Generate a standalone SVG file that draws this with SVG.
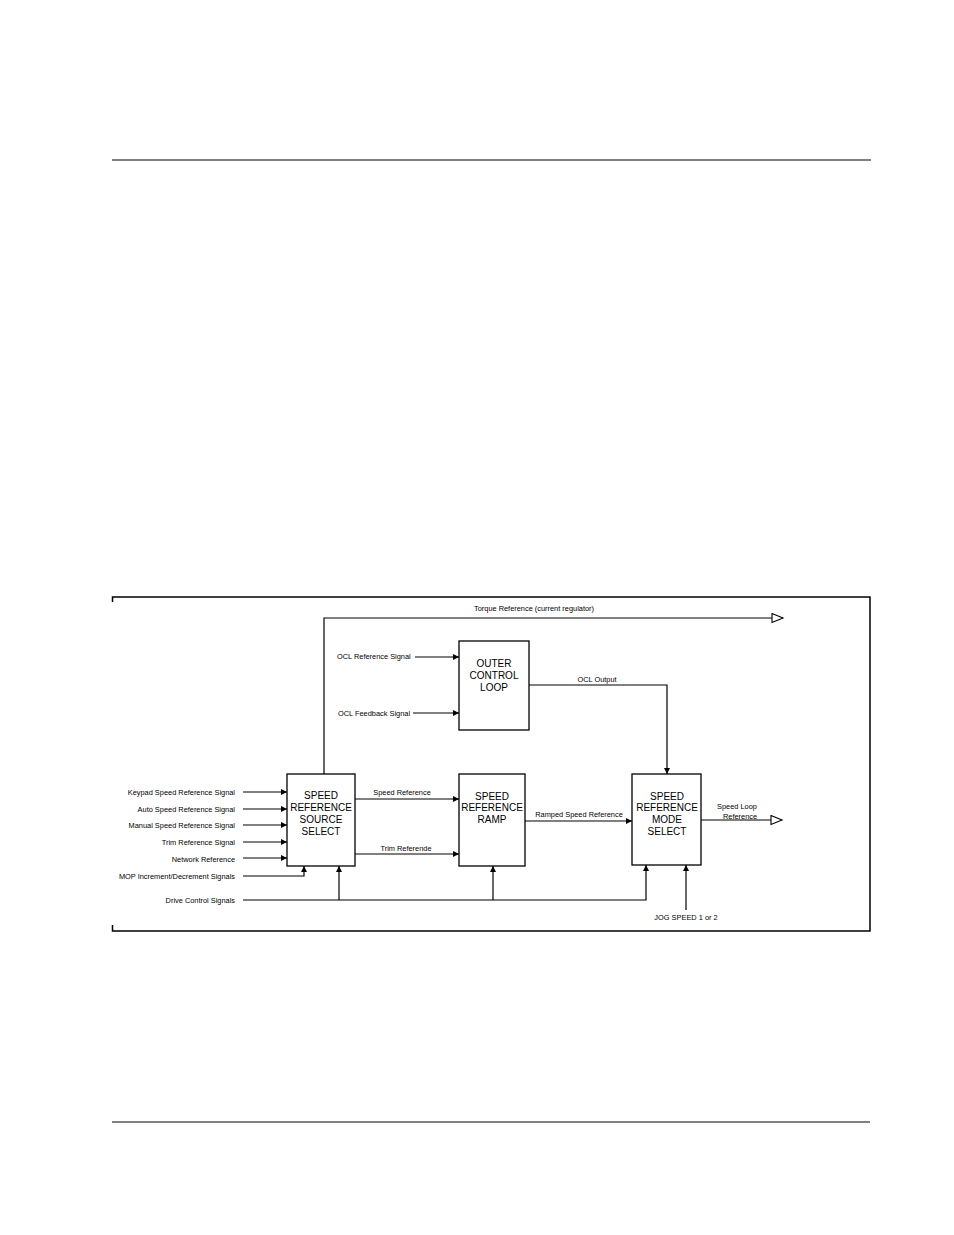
<svg xmlns="http://www.w3.org/2000/svg" width="954" height="1235" viewBox="0 0 954 1235">
<defs>
<style>
.ln{stroke:#000;stroke-width:1.2;fill:none}
.box{stroke:#000;stroke-width:1.3;fill:#fff}
.bt{font-family:"Liberation Sans",Arial,sans-serif;font-size:10px;text-anchor:middle;fill:#000}
.lb{font-family:"Liberation Sans",Arial,sans-serif;font-size:7.4px;fill:#000}
.r{text-anchor:end}
.m{text-anchor:middle}
</style>
<marker id="a" markerWidth="7" markerHeight="6" refX="6" refY="3" orient="auto" markerUnits="userSpaceOnUse">
<path d="M0,0 L6,3 L0,6 z" fill="#000"/>
</marker>
<marker id="o" markerWidth="14" markerHeight="12" refX="12" refY="5.5" orient="auto" markerUnits="userSpaceOnUse">
<path d="M1,1 L12,5.5 L1,10 z" fill="#fff" stroke="#000" stroke-width="1.1"/>
</marker>
</defs>
<rect width="954" height="1235" fill="#fff"/>
<line x1="112" y1="160" x2="871" y2="160" stroke="#000" stroke-width="1.2"/>
<line x1="112" y1="1122" x2="870" y2="1122" stroke="#000" stroke-width="1.2"/>
<g id="frame" fill="none" stroke="#000">
<polyline points="112.5,602 112.5,597 870,597 870,931 112.5,931 112.5,925" stroke-width="1.5"/>
</g>
<g id="connectors">
<polyline class="ln" points="324,774 324,618 783,618" marker-end="url(#o)"/>
<line class="ln" x1="415" y1="657" x2="459" y2="657" marker-end="url(#a)"/>
<line class="ln" x1="413" y1="713" x2="459" y2="713" marker-end="url(#a)"/>
<polyline class="ln" points="529,685 667,685 667,774" marker-end="url(#a)"/>
<line class="ln" x1="243" y1="792" x2="287" y2="792" marker-end="url(#a)"/>
<line class="ln" x1="243" y1="809" x2="287" y2="809" marker-end="url(#a)"/>
<line class="ln" x1="243" y1="825" x2="287" y2="825" marker-end="url(#a)"/>
<line class="ln" x1="243" y1="842" x2="287" y2="842" marker-end="url(#a)"/>
<line class="ln" x1="243" y1="858" x2="287" y2="858" marker-end="url(#a)"/>
<polyline class="ln" points="243,876 304,876 304,866" marker-end="url(#a)"/>
<polyline class="ln" points="243,900 646,900 646,865" marker-end="url(#a)"/>
<line class="ln" x1="339" y1="900" x2="339" y2="866" marker-end="url(#a)"/>
<line class="ln" x1="493" y1="900" x2="493" y2="866" marker-end="url(#a)"/>
<line class="ln" x1="355" y1="799" x2="459" y2="799" marker-end="url(#a)"/>
<line class="ln" x1="355" y1="854" x2="459" y2="854" marker-end="url(#a)"/>
<line class="ln" x1="525" y1="821" x2="632" y2="821" marker-end="url(#a)"/>
<line class="ln" x1="701" y1="820" x2="782" y2="820" marker-end="url(#o)"/>
<line class="ln" x1="686" y1="910" x2="686" y2="865" marker-end="url(#a)"/>
</g>
<g id="labels">
<text class="lb m" x="534" y="611">Torque Reference (current regulator)</text>
<text class="lb" x="337" y="659">OCL Reference Signal</text>
<text class="lb" x="338" y="716">OCL Feedback Signal</text>
<text class="lb m" x="597" y="682">OCL Output</text>
<text class="lb r" x="235" y="795">Keypad Speed  Reference Signal</text>
<text class="lb r" x="235" y="812">Auto Speed  Reference Signal</text>
<text class="lb r" x="235" y="828">Manual Speed Reference Signal</text>
<text class="lb r" x="235" y="845">Trim Reference Signal</text>
<text class="lb r" x="235" y="862">Network Reference</text>
<text class="lb r" x="235" y="879">MOP Increment/Decrement Signals</text>
<text class="lb r" x="235" y="903">Drive Control Signals</text>
<text class="lb m" x="402" y="795">Speed Reference</text>
<text class="lb m" x="406" y="851">Trim Referende</text>
<text class="lb m" x="579" y="817">Ramped Speed Reference</text>
<text class="lb" x="717" y="809">Speed Loop</text>
<text class="lb" x="723" y="819">Reference</text>
<text class="lb m" x="686" y="920">JOG SPEED 1 or 2</text>
</g>
<g id="ocl">
<rect class="box" x="459" y="641" width="70" height="89"/>
<text class="bt" x="494" y="667">OUTER</text>
<text class="bt" x="494" y="679">CONTROL</text>
<text class="bt" x="494" y="691">LOOP</text>
</g>
<g id="srss">
<rect class="box" x="287" y="774" width="68" height="92"/>
<text class="bt" x="321" y="799">SPEED</text>
<text class="bt" x="321" y="811">REFERENCE</text>
<text class="bt" x="321" y="823">SOURCE</text>
<text class="bt" x="321" y="835">SELECT</text>
</g>
<g id="srr">
<rect class="box" x="459" y="774" width="66" height="92"/>
<text class="bt" x="492" y="800">SPEED</text>
<text class="bt" x="492" y="811">REFERENCE</text>
<text class="bt" x="492" y="823">RAMP</text>
</g>
<g id="srms">
<rect class="box" x="632" y="774" width="69" height="91"/>
<text class="bt" x="667" y="800">SPEED</text>
<text class="bt" x="667" y="811">REFERENCE</text>
<text class="bt" x="667" y="823">MODE</text>
<text class="bt" x="667" y="835">SELECT</text>
</g>
</svg>
